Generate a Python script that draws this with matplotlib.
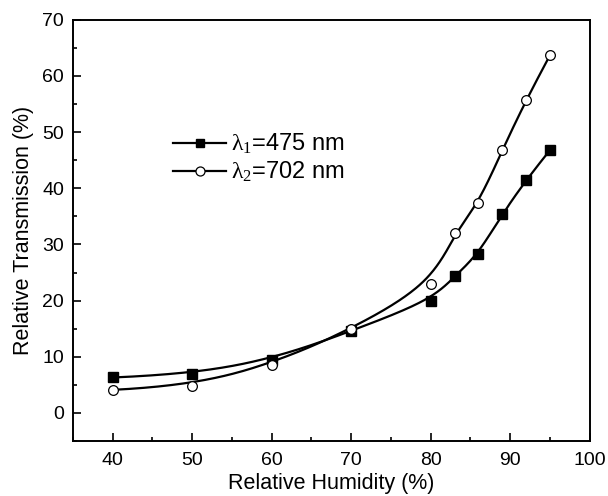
import numpy as np
import matplotlib
matplotlib.use("Agg")
import matplotlib.pyplot as plt
from matplotlib.ticker import MultipleLocator

plt.rcParams['font.family'] = ['Liberation Sans', 'DejaVu Sans']
plt.rcParams['mathtext.fontset'] = 'custom'
plt.rcParams['mathtext.rm'] = 'Liberation Serif'

# data
humidity = [40, 50, 60, 70, 80, 83, 86, 89, 92, 95]
trans_475 = [6.3, 6.9, 9.4, 14.6, 20.0, 24.3, 28.3, 35.5, 41.5, 46.8]
trans_702 = [4.1, 4.8, 8.6, 14.9, 22.9, 32.0, 37.3, 46.8, 55.8, 63.7]
labels = [r'$\mathrm{\lambda_{1}}$=475 nm', r'$\mathrm{\lambda_{2}}$=702 nm']


def bspline(x, y, k=3, num=400):
    """Clamped uniform cubic B-spline using the points as control points."""
    x = np.asarray(x, float)
    y = np.asarray(y, float)
    n = len(x)
    knots = np.concatenate(([0.0] * k, np.linspace(0, 1, n - k + 1), [1.0] * k))
    t = np.linspace(0, 1, num)
    t[-1] -= 1e-12
    N = np.zeros((num, len(knots) - 1))
    for i in range(len(knots) - 1):
        N[:, i] = (knots[i] <= t) & (t < knots[i + 1])
    for d in range(1, k + 1):
        M = np.zeros((num, len(knots) - 1 - d))
        for i in range(len(knots) - 1 - d):
            den1 = knots[i + d] - knots[i]
            den2 = knots[i + d + 1] - knots[i + 1]
            w1 = (t - knots[i]) / den1 if den1 > 0 else 0.0
            w2 = (knots[i + d + 1] - t) / den2 if den2 > 0 else 0.0
            M[:, i] = w1 * N[:, i] + w2 * N[:, i + 1]
        N = M
    return N @ x, N @ y


fig = plt.figure(figsize=(6.08, 4.96), dpi=100)
ax = fig.add_axes([0.120, 0.111, 0.850, 0.849])

# smooth curves
for yv in (trans_475, trans_702):
    sx, sy = bspline(humidity, yv)
    ax.plot(sx, sy, color='black', lw=1.6, zorder=2)

ax.plot(humidity, trans_475, linestyle='none', marker='s', ms=6.5,
        mfc='black', mec='black', zorder=3)
ax.plot(humidity, trans_702, linestyle='none', marker='o', ms=7,
        mfc='white', mec='black', mew=0.9, zorder=3)

# legend handles (line + marker)
h1, = ax.plot([], [], color='black', lw=1.6, marker='s', ms=6, mfc='black', mec='black')
h2, = ax.plot([], [], color='black', lw=1.6, marker='o', ms=6.5, mfc='white', mec='black', mew=0.9)
ax.legend([h1, h2], labels,
          loc='upper left', bbox_to_anchor=(0.185, 0.745), frameon=False,
          fontsize=17, handlelength=2.25, handletextpad=0.2, labelspacing=0.15,
          borderaxespad=0, borderpad=0.2)

ax.set_xlim(35, 100)
ax.set_ylim(-5, 70)
ax.xaxis.set_major_locator(MultipleLocator(10))
ax.xaxis.set_minor_locator(MultipleLocator(5))
ax.yaxis.set_major_locator(MultipleLocator(10))
ax.yaxis.set_minor_locator(MultipleLocator(5))
ax.tick_params(which='both', direction='in', top=False, right=False,
               labelsize=14, width=1.2)
ax.tick_params(axis='x', which='major', pad=8)
ax.tick_params(axis='y', which='major', pad=6.5)
ax.tick_params(which='major', length=6)
ax.tick_params(which='minor', length=3)
for s in ax.spines.values():
    s.set_linewidth(1.4)

ax.set_xlabel('Relative Humidity (%)', fontsize=15.5, labelpad=3)
ax.set_ylabel('Relative Transmission (%)', fontsize=15.5, labelpad=6)

fig.savefig('out.png', dpi=100)
